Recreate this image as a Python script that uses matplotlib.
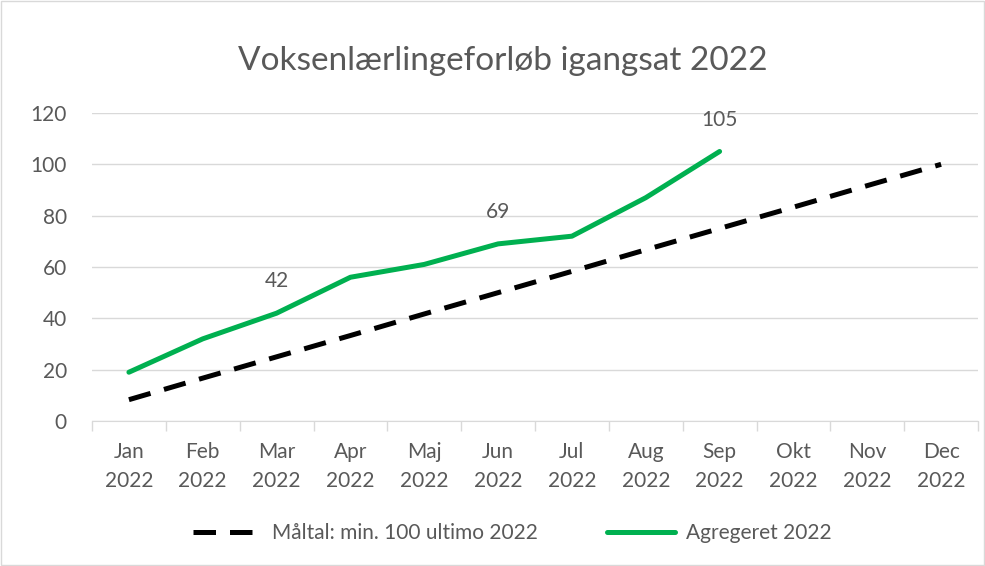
import matplotlib.pyplot as plt
from matplotlib.patches import Rectangle

plt.rcParams['font.family'] = ['Lato', 'DejaVu Sans']

months = ['Jan\n2022', 'Feb\n2022', 'Mar\n2022', 'Apr\n2022', 'Maj\n2022', 'Jun\n2022',
          'Jul\n2022', 'Aug\n2022', 'Sep\n2022', 'Okt\n2022', 'Nov\n2022', 'Dec\n2022']
maaltal = [8.3, 16.7, 25, 33.3, 41.7, 50, 58.3, 66.7, 75, 83.3, 91.7, 100]
agregeret = [19, 32, 42, 56, 61, 69, 72, 87, 105]
labelled = {2: '42', 5: '69', 8: '105'}

txt = '#595959'
fig = plt.figure(figsize=(9.85, 5.66), dpi=100)
ax = fig.add_axes([0.0934, 0.2562, 0.8995, 0.5442])

x_all = list(range(len(months)))
ax.plot(x_all, maaltal, color='black', lw=3.6, linestyle=(0, (4.5, 2.8)),
        label='Måltal: min. 100 ultimo 2022', zorder=3)
ax.plot(x_all[:len(agregeret)], agregeret, color='#00b050', lw=3.6,
        solid_capstyle='round', label='Agregeret 2022', zorder=4)

# datalabels kun paa udvalgte punkter
for i, s in labelled.items():
    ax.annotate(s, (i, agregeret[i]), xytext=(0, 23), textcoords='offset points',
                ha='center', va='center', fontsize=15, color=txt)

ax.set_xlim(-0.5, len(months) - 0.5)
ax.set_ylim(0, 120)
ax.set_yticks(range(0, 121, 20))
ax.yaxis.grid(True, color='#d9d9d9', lw=1)
ax.set_axisbelow(True)
ax.tick_params(axis='y', length=0, labelsize=15, labelcolor=txt, pad=18)

# tick-streger mellem kategorierne, labels i midten
ax.set_xticks([i - 0.5 for i in range(len(months) + 1)])
ax.set_xticklabels([])
ax.set_xticks(x_all, minor=True)
ax.set_xticklabels(months, minor=True, linespacing=1.6)
ax.tick_params(axis='x', which='major', length=7, color='#d9d9d9', width=1)
ax.tick_params(axis='x', which='minor', length=0, labelsize=15, labelcolor=txt, pad=15)
ax.xaxis.grid(False)

for sp in ['top', 'right', 'left']:
    ax.spines[sp].set_visible(False)
ax.spines['bottom'].set_color('#d9d9d9')

fig.text(0.51, 0.893, 'Voksenlærlingeforløb igangsat 2022', ha='center', va='center',
         fontsize=24, color=txt)

fig.legend(loc='center', bbox_to_anchor=(0.52, 0.058), ncol=2, frameon=False,
           fontsize=15, labelcolor=txt, handlelength=3.3, columnspacing=3.3, handletextpad=0.5)

fig.patches.append(Rectangle((0.001, 0.001), 0.998, 0.998, transform=fig.transFigure,
                             fill=False, edgecolor='#d9d9d9', lw=1))

fig.savefig('out.png', dpi=100)
